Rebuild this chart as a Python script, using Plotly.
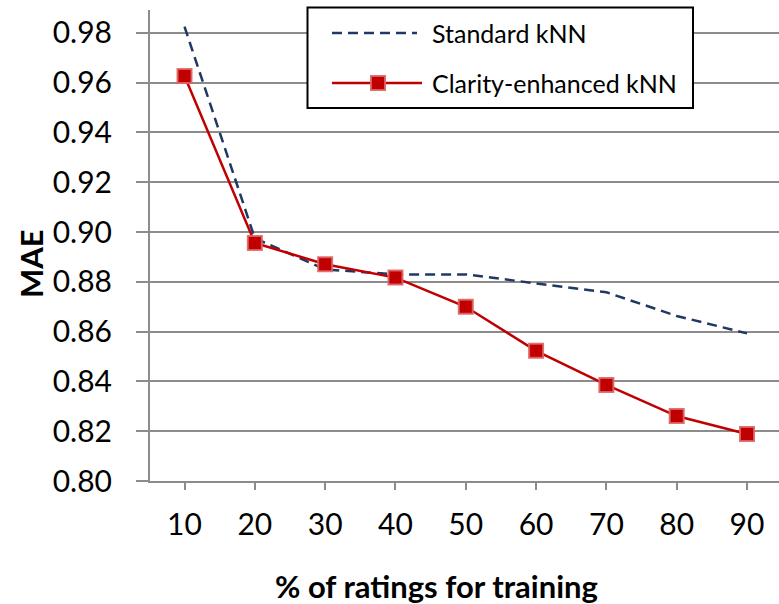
import plotly.graph_objects as go

# ---- data ----
training_pct = [10, 20, 30, 40, 50, 60, 70, 80, 90]
standard_knn = [0.9825, 0.8975, 0.8850, 0.8830, 0.8830, 0.8794, 0.8758, 0.8663, 0.8593]
clarity_knn = [0.9627, 0.8956, 0.8871, 0.8817, 0.8700, 0.8523, 0.8386, 0.8261, 0.8189]
y_ticks = [0.80, 0.82, 0.84, 0.86, 0.88, 0.90, 0.92, 0.94, 0.96, 0.98]
series_names = ["Standard kNN", "Clarity-enhanced kNN"]

W, H = 779, 604
L, R, T, B = 150, 0, 10, 123
PW, PH = W - L - R, H - T - B

FONT = "Lato, Carlito, 'Liberation Sans', sans-serif"
GRID = "#8C8C8C"
NAVY = "#1F3864"
RED = "#C00000"


def px(x):
    return (x - L) / PW


def py(y):
    return (H - B - y) / PH


fig = go.Figure()
fig.add_trace(go.Scatter(
    x=training_pct, y=standard_knn, mode="lines", name=series_names[0],
    line=dict(color=NAVY, width=2.5, dash="10px,6px"), showlegend=False,
))
fig.add_trace(go.Scatter(
    x=training_pct, y=clarity_knn, mode="lines+markers", name=series_names[1],
    line=dict(color=RED, width=2.5),
    marker=dict(symbol="square", size=14, color=RED,
                line=dict(color="rgba(222,100,100,0.9)", width=2)),
    showlegend=False,
))

shapes = [
    # legend box
    dict(type="rect", xref="paper", yref="paper",
         x0=px(307.5), x1=px(693), y0=py(108), y1=py(7.5),
         line=dict(color="black", width=2), fillcolor="white", layer="above"),
    dict(type="line", xref="paper", yref="paper",
         x0=px(332), x1=px(417), y0=py(33), y1=py(33),
         line=dict(color=NAVY, width=2.5, dash="10px,6px"), layer="above"),
    dict(type="line", xref="paper", yref="paper",
         x0=px(332), x1=px(422), y0=py(83), y1=py(83),
         line=dict(color=RED, width=2.5), layer="above"),
    dict(type="rect", xref="paper", yref="paper",
         x0=px(371), x1=px(385), y0=py(90), y1=py(76),
         fillcolor=RED, line=dict(color="rgba(222,100,100,0.9)", width=2), layer="above"),
]

annotations = [
    dict(text=series_names[0], xref="paper", yref="paper", x=px(430), y=py(33),
         xanchor="left", yanchor="middle", showarrow=False,
         font=dict(family=FONT, size=25, color="black")),
    dict(text=series_names[1], xref="paper", yref="paper", x=px(430), y=py(83),
         xanchor="left", yanchor="middle", showarrow=False,
         font=dict(family=FONT, size=25, color="black")),
    dict(text="<b>% of ratings for training</b>", xref="paper", yref="paper",
         x=px(436), y=py(586), xanchor="center", yanchor="middle", showarrow=False,
         font=dict(family=FONT, size=31, color="black")),
    dict(text="<b>MAE</b>", xref="paper", yref="paper", textangle=-90,
         x=px(31), y=py(264), xanchor="center", yanchor="middle", showarrow=False,
         font=dict(family=FONT, size=31, color="black")),
]

fig.update_layout(
    width=W, height=H,
    margin=dict(l=L, r=R, t=T, b=B, pad=0),
    paper_bgcolor="white", plot_bgcolor="white",
    font=dict(family=FONT, size=30, color="black"),
    shapes=shapes, annotations=annotations,
    showlegend=False,
)
fig.update_xaxes(
    range=[5.09, 94.55], tickvals=training_pct, ticktext=[str(v) for v in training_pct],
    showgrid=False, zeroline=False, showline=True, linecolor=GRID, linewidth=2,
    ticks="outside", ticklen=7, tickwidth=2, tickcolor=GRID,
    tickfont=dict(family=FONT, size=30, color="black"), ticklabelstandoff=9,
)
fig.update_yaxes(
    range=[0.80, 0.9892], tickvals=y_ticks, ticktext=[f"{v:.2f}" for v in y_ticks],
    showgrid=True, gridcolor=GRID, gridwidth=2, zeroline=False,
    showline=True, linecolor=GRID, linewidth=2,
    ticks="outside", ticklen=12, tickwidth=2, tickcolor=GRID,
    tickfont=dict(family=FONT, size=30, color="black"), ticklabelstandoff=18,
)

fig.write_html("out.html", config={"displayModeBar": False},
               post_script="document.body.style.margin='0';document.body.style.padding='0';")
